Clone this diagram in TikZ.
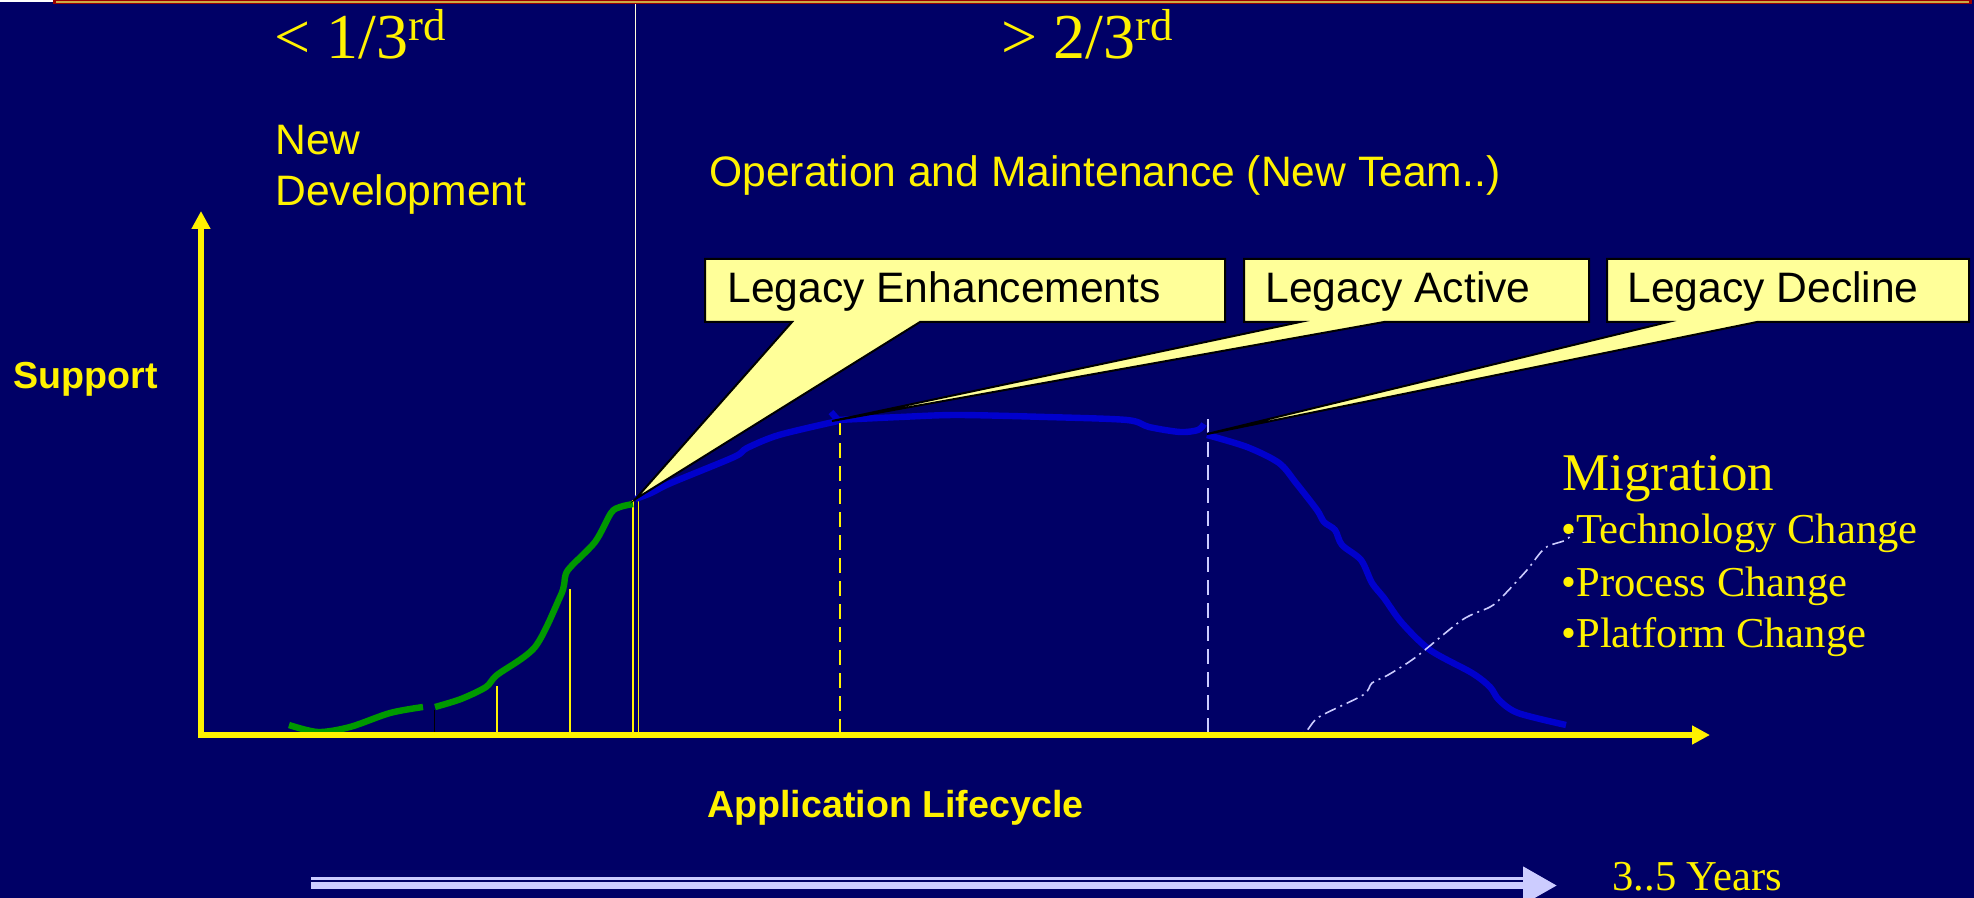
\documentclass[tikz,border=0pt]{standalone}
\usepackage{fontspec}
\setmainfont{Liberation Sans}
\newfontfamily\timesfont{Liberation Serif}
\usetikzlibrary{arrows.meta}

\definecolor{slidebg}{RGB}{0,0,102}
\definecolor{noteyellow}{RGB}{255,255,153}
\definecolor{devgreen}{RGB}{0,153,0}
\definecolor{opsblue}{RGB}{0,0,204}
\definecolor{migrlilac}{RGB}{204,204,255}
\definecolor{barred}{RGB}{153,0,0}
\definecolor{bargold}{RGB}{204,170,68}

\tikzset{
  txt/.style={anchor=base west,inner sep=0pt,text=yellow,font=\fontsize{21.3}{25}\selectfont},
  txtbold/.style={txt,font=\fontsize{18.8}{22}\selectfont\bfseries},
  rmtxt/.style={txt,font=\timesfont\fontsize{21.3}{25}\selectfont},
  callout/.style={fill=noteyellow,draw=black,line width=1pt,line join=miter},
  callouttext/.style={txt,text=black},
  axisline/.style={yellow,line width=3pt,line join=miter,
    {Triangle[length=9pt,width=9pt]}-{Triangle[length=9pt,width=9pt]}},
  marker/.style={yellow,line width=0.9pt},
  phase/.style={line width=1pt,dash pattern=on 7.5pt off 4pt},
  lifecurve/.style={line width=3.2pt,line join=round},
}

\begin{document}
\begin{tikzpicture}[x=0.5pt,y=-0.5pt]
\fill[slidebg] (0,0) rectangle (1974,898);
\useasboundingbox (0,0) rectangle (1974,898);
%title bar
\fill[white] (0,0) rectangle (53,2);
\fill[barred] (53,0) rectangle (1972,4.5);
\fill[bargold] (56,1.3) rectangle (1969,3);

\coordinate (orig) at (201,735);
\coordinate (ytop) at (201,211);
\coordinate (xend) at (1710,735);
\coordinate (enh) at (635.5,499);
\coordinate (act) at (832,421);
\coordinate (dec) at (1207,434);

% phase split
\draw[white!85!yellow,line width=0.9pt] (635.5,4) -- (enh);
\node[txt,font=\timesfont\fontsize{32}{38}\selectfont] (third) at (274,59) {< 1/3\textsuperscript{rd}};
\node[txt,font=\timesfont\fontsize{32}{38}\selectfont] (twothird) at (1001,59) {> 2/3\textsuperscript{rd}};
\node[txt] (newdev) at (275,155) {New};
\node[txt] (newdev2) at (275,206) {Development};
\node[txt] (ops) at (709,187) {Operation and Maintenance (New Team..)};

% markers under the curve
\draw[black,line width=0.8pt] (434.5,710) -- (434.5,735);
\foreach \x/\y in {496.6/686,569.7/589,633/500,638.5/500}
  \draw[marker] (\x,\y) -- (\x,735);
\draw[phase,yellow] (840,420) -- (840,735);
\draw[phase,migrlilac] (1208,419) -- (1208,735);

% development
\draw[lifecurve,devgreen] plot[smooth,tension=0.5] coordinates {(289,725) (318,732) (350,727) (390,713) (423,707)};
\draw[lifecurve,devgreen] plot[smooth,tension=0.5] coordinates {(435,707) (461,699) (486,687) (497,675) (535,647) (560,597) (564,585) (568,570) (595,542) (611,513) (620,507) (633,504)};

% operation
\draw[lifecurve,opsblue] plot[smooth,tension=0.5] coordinates {(enh) (651,493) (671,483) (734,457) (747,448) (779,435) (838,421)};
\draw[lifecurve,opsblue] (831,412) -- (838,420);
\draw[lifecurve,opsblue] plot[smooth,tension=0.5] coordinates {(838,420) (900,417) (957,415) (1046,417) (1127,420) (1149,427) (1180,432) (1198,430) (1204,424)};
\draw[lifecurve,opsblue] plot[smooth,tension=0.5] coordinates {(1207,435) (1247,447) (1279,463) (1296,483) (1317,510) (1324,522) (1335,530) (1342,545) (1361,560) (1372,583) (1384,598) (1402,623) (1430,650) (1472,673) (1490,687) (1499,700) (1518,713) (1566,725)};

% migration
\draw[migrlilac,line width=0.8pt,dash pattern=on 6pt off 2.5pt on 1pt off 2.5pt] plot[smooth,tension=0.5] coordinates {(1285,736) (1305,732) (1319,717) (1363,695) (1372,683) (1388,675) (1416,657) (1462,620) (1490,607) (1502,597) (1527,570) (1545,548) (1566,540) (1573,532)};

\draw[axisline] (ytop) -- (orig) -- (xend);

% callouts
\draw[callout] (705,259) -- (1225,259) -- (1225,322) -- (920,322) -- (enh) -- (792,322) -- (705,322) -- cycle;
\draw[callout] (1244,259) -- (1589,259) -- (1589,322) -- (1384,322) -- (act) -- (1300,322) -- (1244,322) -- cycle;
\draw[callout] (1607,259) -- (1969,259) -- (1969,322) -- (1757,322) -- (dec) -- (1668,322) -- (1607,322) -- cycle;
\node[callouttext] (enhtext) at (727,303) {Legacy Enhancements};
\node[callouttext] (acttext) at (1265,303) {Legacy Active};
\node[callouttext] (dectext) at (1627,303) {Legacy Decline};

\node[rmtxt,font=\timesfont\fontsize{26.5}{30}\selectfont] (migr) at (1562,490) {Migration};
\node[rmtxt] (migr1) at (1561,543) {•Technology Change};
\node[rmtxt] (migr2) at (1561,596) {•Process Change};
\node[rmtxt] (migr3) at (1561,647) {•Platform Change};

\node[txtbold] (ylabel) at (13,388) {Support};
\node[txtbold] (xlabel) at (707,817) {Application Lifecycle};

% years arrow
\coordinate (yrs0) at (311,885.5);
\coordinate (yrs1) at (1557,885.5);
\draw[migrlilac,line width=3.8pt,-{Triangle[length=17pt,width=18pt]}] (yrs0) -- (yrs1);
\draw[migrlilac,line width=1.4pt] (311,878.5) -- (1523,878.5);
\node[rmtxt] (years) at (1612,890) {3..5 Years};
\end{tikzpicture}
\end{document}
